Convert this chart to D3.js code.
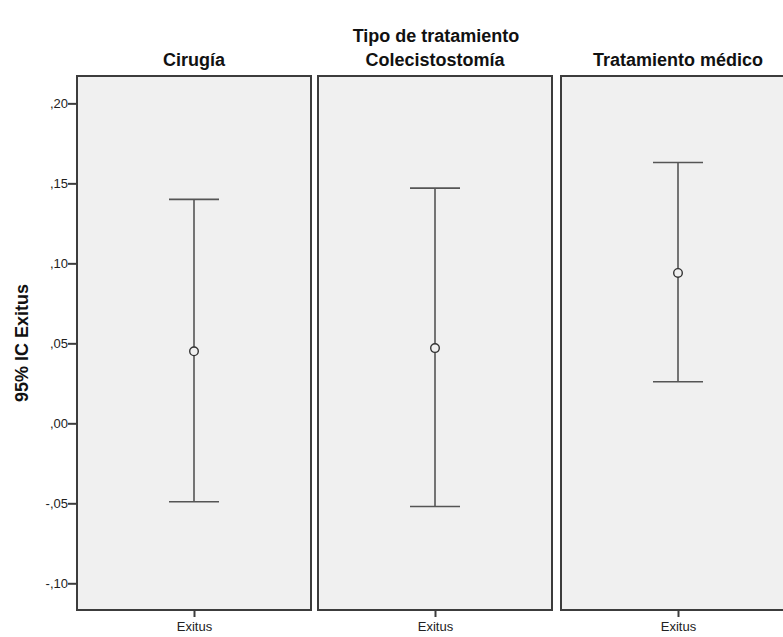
<!DOCTYPE html>
<html>
<head>
<meta charset="utf-8">
<script src="https://cdn.jsdelivr.net/npm/d3@7"></script>
<style>
  html, body { margin: 0; padding: 0; background: #ffffff; }
  svg { display: block; }
  text { font-family: "Liberation Sans", Arial, sans-serif; }
</style>
</head>
<body>
<svg id="chart" width="783" height="637"></svg>
<script>
// Treatment groups (panels) and the 95% CI of "Exitus" per group
const groups = ["Cirugía", "Colecistostomía", "Tratamiento médico"];
const means = [0.045, 0.047, 0.094];
const lower = [-0.049, -0.052, 0.026];
const upper = [0.140, 0.147, 0.163];
const yTicks = [-0.10, -0.05, 0.00, 0.05, 0.10, 0.15, 0.20];
const xCategory = ["Exitus"];

const svg = d3.select("#chart");

const plotTop = 76, plotBottom = 610;
const panelLeft = [77, 318, 561];
const panelWidth = 234;

const y = d3.scaleLinear().domain([-0.1167, 0.2171]).range([plotBottom, plotTop]);

const fmt = v => {
  if (Math.abs(v) < 1e-9) return ",00";
  const s = d3.format(".2f")(Math.abs(v)).replace("0.", ",");
  return (v < 0 ? "-" : "") + s;
};

// Overall facet title
svg.append("text")
  .attr("x", 436).attr("y", 42)
  .attr("text-anchor", "middle")
  .attr("font-size", 18).attr("font-weight", "bold")
  .attr("fill", "#111")
  .text("Tipo de tratamiento");

groups.forEach((g, i) => {
  const x0 = panelLeft[i];
  const x = d3.scalePoint().domain(xCategory).range([x0, x0 + panelWidth]).padding(0.5);
  const panel = svg.append("g");

  // panel background and frame
  panel.append("rect")
    .attr("x", x0).attr("y", plotTop)
    .attr("width", panelWidth).attr("height", plotBottom - plotTop)
    .attr("fill", "#f0f0f0")
    .attr("stroke", "#3c3c3c").attr("stroke-width", 2);

  // panel header
  panel.append("text")
    .attr("x", x0 + panelWidth / 2).attr("y", 66)
    .attr("text-anchor", "middle")
    .attr("font-size", 18).attr("font-weight", "bold")
    .attr("fill", "#111")
    .text(g);

  // category axis
  const xAxis = d3.axisBottom(x).tickSize(7).tickSizeOuter(0);
  const gx = panel.append("g").attr("transform", `translate(0,${plotBottom})`).call(xAxis);
  gx.select(".domain").remove();
  gx.selectAll(".tick line").attr("stroke", "#3c3c3c").attr("stroke-width", 2);
  gx.selectAll(".tick text").attr("font-size", 13).attr("fill", "#222")
    .attr("dy", "0.2em").attr("y", 18)
    .attr("font-family", "Liberation Sans, Arial, sans-serif");

  const cx = x(xCategory[0]);
  const capHalf = 25;
  const eb = panel.append("g").attr("stroke", "#555").attr("stroke-width", 1.6).attr("fill", "none");
  eb.append("line").attr("x1", cx).attr("x2", cx).attr("y1", y(upper[i])).attr("y2", y(lower[i]));
  eb.append("line").attr("x1", cx - capHalf).attr("x2", cx + capHalf).attr("y1", y(upper[i])).attr("y2", y(upper[i]));
  eb.append("line").attr("x1", cx - capHalf).attr("x2", cx + capHalf).attr("y1", y(lower[i])).attr("y2", y(lower[i]));
  panel.append("circle")
    .attr("cx", cx).attr("cy", y(means[i])).attr("r", 4.3)
    .attr("fill", "#f0f0f0").attr("stroke", "#333").attr("stroke-width", 1.4);
});

// value axis on the first panel
const yAxis = d3.axisLeft(y).tickValues(yTicks).tickFormat(fmt).tickSize(9).tickSizeOuter(0);
const gy = svg.append("g").attr("transform", `translate(${panelLeft[0]},0)`).call(yAxis);
gy.select(".domain").remove();
gy.selectAll(".tick line").attr("stroke", "#3c3c3c").attr("stroke-width", 2);
gy.selectAll(".tick text").attr("font-size", 13).attr("fill", "#222")
  .attr("x", -9)
  .attr("font-family", "Liberation Sans, Arial, sans-serif");

// value axis title
svg.append("text")
  .attr("transform", `translate(28,${(plotTop + plotBottom) / 2}) rotate(-90)`)
  .attr("text-anchor", "middle")
  .attr("font-size", 18).attr("font-weight", "bold")
  .attr("fill", "#111")
  .text("95% IC Exitus");
</script>
</body>
</html>
